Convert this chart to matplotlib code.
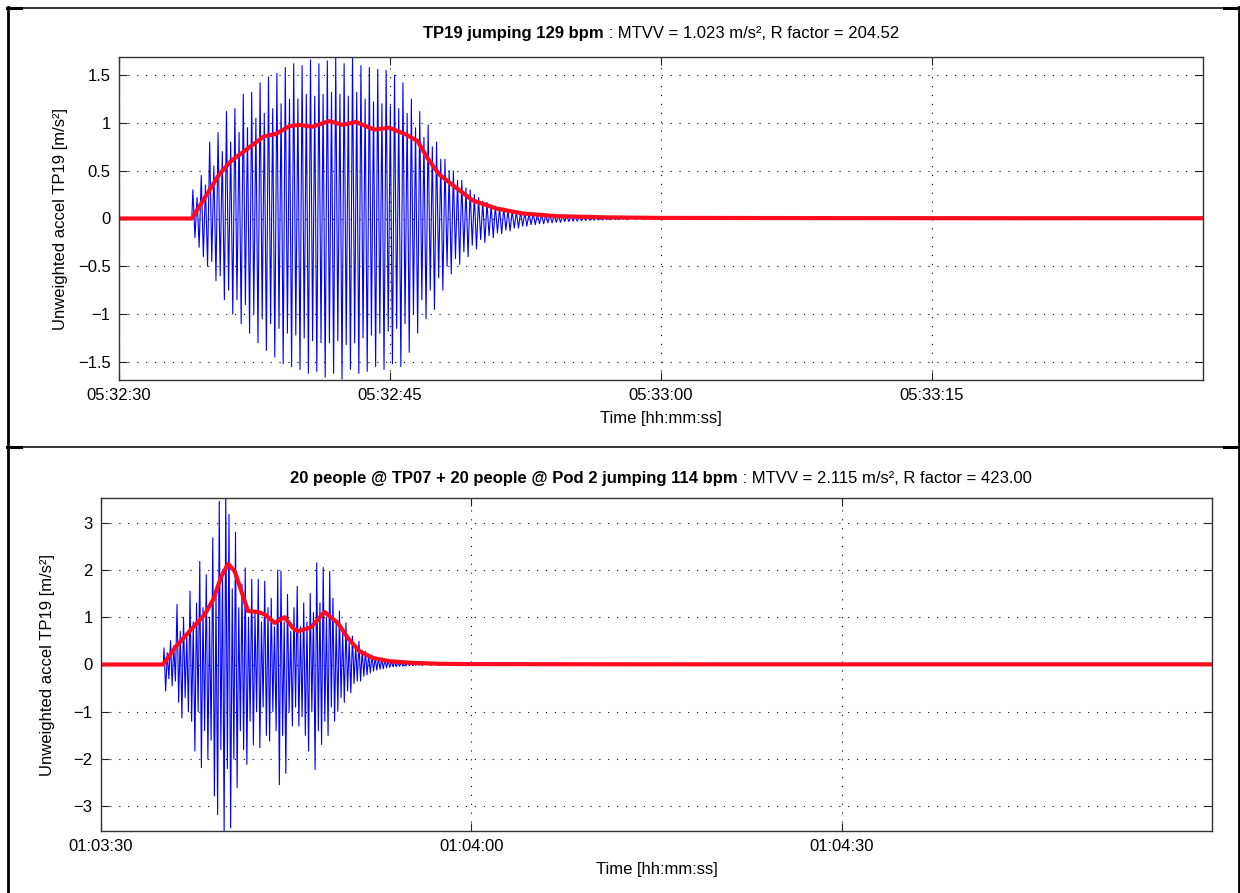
import numpy as np
import matplotlib
matplotlib.use("Agg")
import matplotlib.pyplot as plt
from matplotlib.lines import Line2D

plt.rcParams['font.family'] = ['Liberation Sans', 'DejaVu Sans']
plt.rcParams['font.size'] = 12

# response peaks come at twice the jumping rate (2nd harmonic dominates)
peaks_per_jump = 2

# ---- test 1: TP19, 129 bpm, 60 s window starting 05:32:30 ----
top_bpm = 129
top_start = 4.03          # s after window start
top_span = 60
top_ticks = [0, 15, 30, 45]
top_ticklabels = ['05:32:30', '05:32:45', '05:33:00', '05:33:15']
# peak accel of each response cycle (positive / negative side), m/s^2
top_pos = [0.30, 0.22, 0.45, 0.35, 0.80, 0.55, 0.90, 0.70,
           1.12, 0.80, 1.15, 0.90, 1.30, 0.95, 1.32, 1.05,
           1.42, 1.10, 1.48, 1.15, 1.52, 1.20, 1.58, 1.25,
           1.62, 1.25, 1.60, 1.30, 1.66, 1.28, 1.62, 1.30,
           1.65, 1.32, 1.68, 1.30, 1.62, 1.28, 1.70, 1.32,
           1.60, 1.25, 1.58, 1.22, 1.56, 1.20, 1.55, 1.18,
           1.50, 1.15, 1.42, 1.10, 1.25, 0.95, 1.12, 0.85,
           0.98, 0.75, 0.80, 0.62, 0.62, 0.50, 0.50, 0.40,
           0.40, 0.32, 0.30, 0.25, 0.22, 0.18, 0.17, 0.14,
           0.13, 0.11, 0.11, 0.09, 0.08, 0.07, 0.07, 0.06,
           0.055, 0.05, 0.045, 0.04, 0.04, 0.035, 0.035, 0.03,
           0.03, 0.025, 0.025, 0.02, 0.02, 0.018, 0.018, 0.015,
           0.015, 0.013, 0.012, 0.011, 0.01, 0.01, 0.008, 0.008]
top_neg = [0.20, 0.30, 0.40, 0.50, 0.45, 0.65, 0.60, 0.85,
           0.75, 1.00, 0.85, 1.10, 0.90, 1.20, 1.00, 1.30,
           1.05, 1.38, 1.10, 1.45, 1.15, 1.52, 1.20, 1.55,
           1.22, 1.58, 1.25, 1.62, 1.28, 1.60, 1.30, 1.66,
           1.30, 1.62, 1.28, 1.68, 1.32, 1.58, 1.30, 1.62,
           1.25, 1.60, 1.22, 1.55, 1.20, 1.58, 1.18, 1.52,
           1.15, 1.55, 1.10, 1.40, 1.00, 1.20, 0.85, 1.05,
           0.75, 0.95, 0.62, 0.75, 0.50, 0.58, 0.42, 0.48,
           0.35, 0.40, 0.28, 0.32, 0.22, 0.25, 0.18, 0.20,
           0.15, 0.16, 0.12, 0.13, 0.10, 0.10, 0.08, 0.08,
           0.065, 0.065, 0.055, 0.055, 0.045, 0.045, 0.04, 0.04,
           0.032, 0.032, 0.028, 0.028, 0.022, 0.022, 0.018, 0.018,
           0.015, 0.015, 0.012, 0.012, 0.01, 0.01, 0.008, 0.008]
# 1 s running RMS
top_rms_t = [0, 4.03, 4.99, 5.54, 6.19, 6.83, 7.39, 8.03, 8.68, 9.42, 9.97,
             10.71, 11.63, 12.37, 13.11, 14.13, 14.96, 15.88, 16.53, 17.08,
             17.73, 18.47, 19.57, 20.87, 22.34, 24.19, 26.96, 30, 40, 50, 60]
top_rms = [0, 0, 0.29, 0.46, 0.60, 0.69, 0.77, 0.86, 0.885, 0.965, 0.98,
           0.96, 1.02, 0.98, 1.01, 0.93, 0.95, 0.88, 0.81, 0.63,
           0.46, 0.35, 0.19, 0.105, 0.053, 0.025, 0.012, 0.006, 0.004, 0.003, 0.003]

# ---- test 2: TP07 + Pod 2, 114 bpm, 90 s window starting 01:03:30 ----
bot_bpm = 114
bot_start = 5.04
bot_span = 90
bot_ticks = [0, 30, 60]
bot_ticklabels = ['01:03:30', '01:04:00', '01:04:30']
bot_pos = [0.35, 0.25, 0.50, 0.40, 1.27, 0.70, 1.00, 0.60,
           1.55, 0.90, 1.30, 2.18, 1.20, 1.90, 1.00, 2.68,
           1.50, 3.45, 2.00, 3.60, 3.17, 1.60, 2.80, 1.20,
           1.70, 2.04, 1.00, 1.80, 1.10, 1.80, 0.90, 1.76,
           1.20, 1.40, 0.80, 2.00, 1.97, 0.90, 1.48, 0.70,
           1.20, 1.65, 0.80, 1.30, 0.90, 1.50, 1.10, 2.15,
           1.30, 2.05, 1.00, 1.97, 1.40, 0.90, 1.13, 0.70,
           0.88, 0.50, 0.60, 0.40, 0.49, 0.30, 0.28, 0.22,
           0.20, 0.15, 0.14, 0.11, 0.10, 0.08, 0.07, 0.06,
           0.05, 0.045, 0.04, 0.035, 0.03, 0.025, 0.02, 0.015]
bot_neg = [0.56, 0.30, 0.45, 0.35, 0.80, 1.13, 0.70, 1.00,
           1.20, 1.83, 1.00, 2.18, 1.40, 2.00, 1.60, 2.78,
           3.17, 1.80, 3.56, 2.20, 3.45, 2.00, 2.60, 1.40,
           1.80, 2.11, 1.20, 1.70, 1.00, 1.76, 0.90, 1.50,
           1.62, 1.00, 1.40, 2.54, 1.50, 2.30, 1.00, 1.30,
           0.90, 1.30, 1.10, 1.50, 1.83, 1.00, 2.22, 1.40,
           1.69, 1.20, 1.50, 0.90, 1.20, 0.99, 0.70, 0.80,
           0.56, 0.60, 0.40, 0.35, 0.35, 0.25, 0.22, 0.18,
           0.14, 0.12, 0.10, 0.09, 0.07, 0.06, 0.05, 0.045,
           0.04, 0.035, 0.03, 0.025, 0.02, 0.018, 0.015, 0.01]
bot_rms_t = [0, 5.04, 5.98, 7.06, 8.41, 9.08, 9.76, 10.3, 10.83, 11.37, 11.91,
             12.72, 13.26, 14.07, 14.87, 15.55, 15.95, 17.03, 18.1, 19.18, 20.0,
             20.94, 22.0, 23.36, 25.2, 27.4, 30, 45, 60, 75, 90]
bot_rms = [0, 0, 0.35, 0.67, 1.06, 1.37, 1.87, 2.13, 1.97, 1.55, 1.13,
           1.11, 1.06, 0.88, 1.0, 0.77, 0.70, 0.79, 1.11, 0.88, 0.56,
           0.28, 0.14, 0.07, 0.035, 0.015, 0.008, 0.004, 0.003, 0.003, 0.003]

W, H = 1240, 893


def trace(start, bpm, pos, neg, span):
    # zig-zag through the cycle peaks, flat before/after the jumping
    half = 30.0 / bpm / peaks_per_jump
    n = len(pos)
    t = start + (np.arange(2 * n) + 0.5) * half
    a = np.empty(2 * n)
    a[0::2] = pos
    a[1::2] = -np.asarray(neg)
    t = np.concatenate([[0, start], t, [t[-1] + half, span]])
    a = np.concatenate([[0, 0], a, [0, 0]])
    return t, a


def split_title(fig, xc, y, bold, rest):
    r = fig.canvas.get_renderer()
    t1 = fig.text(0, y, bold, fontweight='bold', fontsize=12, va='baseline')
    t2 = fig.text(0, y, rest, fontsize=12, va='baseline')
    w1 = t1.get_window_extent(r).width / W
    w2 = t2.get_window_extent(r).width / W
    x0 = xc - (w1 + w2) / 2
    t1.set_x(x0)
    t2.set_x(x0 + w1)


def style_axes(ax, span, ticks, labels, ylim, yticks):
    ax.set_xlim(0, span)
    ax.set_ylim(-ylim, ylim)
    ax.set_xticks(ticks)
    ax.set_xticklabels(labels)
    ax.set_yticks(yticks)
    ax.set_yticklabels(['%g' % v if v >= 0 else '\u2212%g' % -v for v in yticks])
    ax.grid(True, color='k', linewidth=0.8, linestyle=(0, (1, 7)))
    ax.tick_params(direction='in', length=6, top=True, right=True, pad=6,
                   color='#222222', labelsize=12)
    for s in ax.spines.values():
        s.set_color('#333333')
        s.set_linewidth(1.0)
    ax.set_xlabel('Time [hh:mm:ss]', fontsize=12)
    ax.set_ylabel('Unweighted accel TP19 [m/s\u00b2]', fontsize=12)


fig = plt.figure(figsize=(W / 100, H / 100), dpi=100)

ax1 = fig.add_axes([119 / W, 1 - 380 / H, 1084 / W, 323 / H])
t, a = trace(top_start, top_bpm, top_pos, top_neg, top_span)
ax1.plot(t, a, color='#0000ff', linewidth=0.8)
ax1.plot(top_rms_t, top_rms, color='#ff0a1e', linewidth=3.0, solid_capstyle='round')
style_axes(ax1, top_span, top_ticks, top_ticklabels, 1.69,
           [-1.5, -1, -0.5, 0, 0.5, 1, 1.5])
ax1.xaxis.set_label_coords(0.5, -0.118)
ax1.xaxis.label.set_va('center')
ax1.yaxis.set_label_coords(-0.054, 0.5)
ax1.yaxis.label.set_va('center')

ax2 = fig.add_axes([101 / W, 1 - 831 / H, 1111 / W, 333 / H])
t, a = trace(bot_start, bot_bpm, bot_pos, bot_neg, bot_span)
ax2.plot(t, a, color='#0000ff', linewidth=0.8)
ax2.plot(bot_rms_t, bot_rms, color='#ff0a1e', linewidth=3.0, solid_capstyle='round')
style_axes(ax2, bot_span, bot_ticks, bot_ticklabels, 3.52,
           [-3, -2, -1, 0, 1, 2, 3])
ax2.xaxis.set_label_coords(0.5, -0.117)
ax2.xaxis.label.set_va('center')
ax2.yaxis.set_label_coords(-0.048, 0.5)
ax2.yaxis.label.set_va('center')

split_title(fig, 661 / W, 1 - 38 / H, 'TP19 jumping 129 bpm',
            ' : MTVV = 1.023 m/s\u00b2, R factor = 204.52')
split_title(fig, 661 / W, 1 - 483 / H, '20 people @ TP07 + 20 people @ Pod 2 jumping 114 bpm',
            ' : MTVV = 2.115 m/s\u00b2, R factor = 423.00')

# table-cell borders round the two panels
def hline(y, x0, x1, lw):
    fig.add_artist(Line2D([x0 / W, x1 / W], [1 - y / H, 1 - y / H], color='k', linewidth=lw))

def vline(x, y0, y1, lw):
    fig.add_artist(Line2D([x / W, x / W], [1 - y0 / H, 1 - y1 / H], color='k', linewidth=lw))

hline(7.5, 7, 1238, 1.1)
hline(447, 7, 1238, 1.1)
hline(8, 7, 21, 2.2)
hline(8, 1224, 1238, 2.2)
hline(446.5, 7, 21, 2.2)
hline(446.5, 1224, 1238, 2.2)
vline(7.5, 6.5, 893, 2.0)
vline(1238.5, 6.5, 893, 2.0)

fig.savefig('out.png', dpi=100)
